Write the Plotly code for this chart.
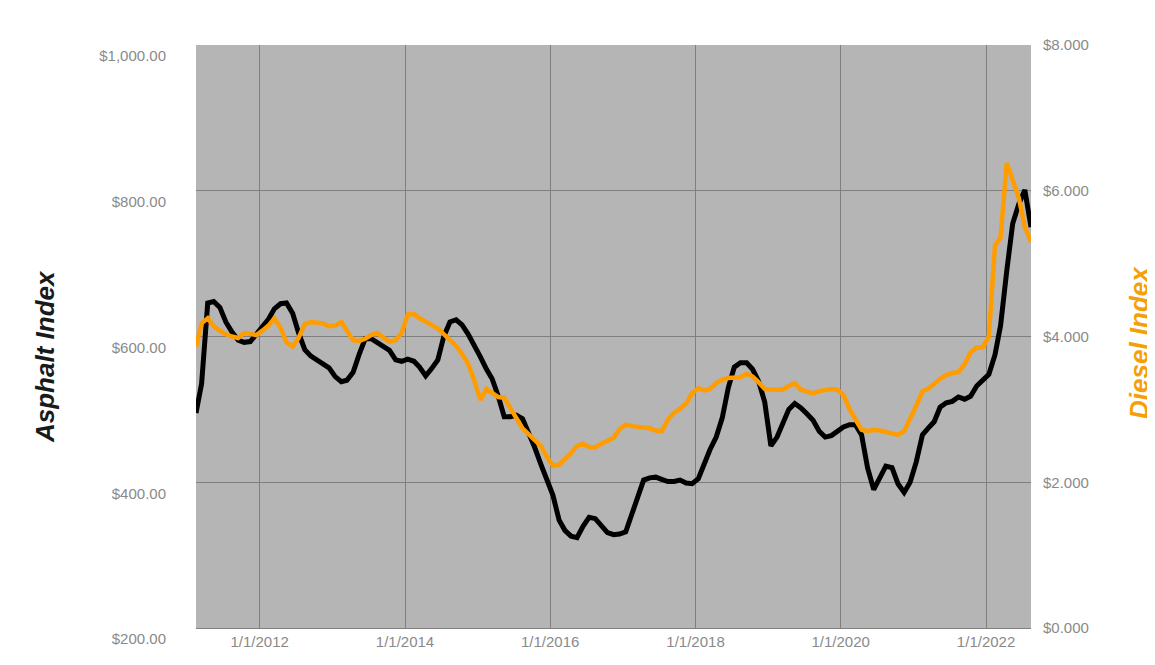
import pandas as pd
import plotly.graph_objects as go

# Monthly observations (mid-month), Feb 2011 .. Aug 2022
dates = pd.date_range("2011-02-01", periods=139, freq="MS") + pd.Timedelta(days=14)

asphalt = [495, 535, 646, 648, 640, 620, 606, 595, 592, 593, 603, 613,
           624, 638, 645, 646, 632, 605, 582, 573, 568, 564, 557, 545,
           538, 540, 551, 575, 597, 597, 591, 586, 581, 568, 566, 569,
           566, 558, 546, 556, 568, 600, 620, 623, 616, 603, 586, 572,
           555, 542, 518, 490, 490, 492, 487, 468, 448, 425, 405, 382,
           348, 334, 326, 324, 340, 352, 350, 340, 331, 328, 329, 332,
           358, 381, 403, 406, 407, 404, 401, 401, 403, 399, 398, 405,
           428, 445, 462, 488, 530, 558, 564, 564, 555, 538, 510, 450,
           462, 482, 500, 508, 502, 494, 485, 470, 462, 464, 470, 476,
           479, 479, 465, 420, 390, 405, 422, 420, 398, 386, 400, 428,
           465, 474, 483, 503, 509, 511, 517, 514, 518, 532, 540, 548,
           575, 615, 690, 755, 782, 801, 750]

diesel = [3.86, 4.18, 4.25, 4.14, 4.08, 4.03, 4.00, 3.98, 4.05, 4.04, 4.02, 4.08,
          4.15, 4.25, 4.12, 3.92, 3.86, 3.98, 4.17, 4.20, 4.19, 4.18, 4.14, 4.15,
          4.20, 4.09, 3.95, 3.94, 3.97, 4.02, 4.05, 3.98, 3.93, 3.95, 4.05, 4.30,
          4.31, 4.25, 4.21, 4.16, 4.11, 4.03, 3.95, 3.87, 3.76, 3.62, 3.40, 3.13,
          3.28, 3.22, 3.17, 3.16, 3.03, 2.88, 2.74, 2.66, 2.60, 2.50, 2.35, 2.23,
          2.24, 2.31, 2.40, 2.50, 2.53, 2.48, 2.48, 2.53, 2.57, 2.61, 2.73, 2.79,
          2.77, 2.76, 2.76, 2.74, 2.71, 2.70, 2.86, 2.95, 3.01, 3.08, 3.22, 3.29,
          3.26, 3.28, 3.36, 3.41, 3.43, 3.43, 3.44, 3.49, 3.45, 3.37, 3.28, 3.27,
          3.27, 3.27, 3.32, 3.36, 3.27, 3.24, 3.22, 3.25, 3.27, 3.28, 3.27, 3.20,
          3.00, 2.85, 2.72, 2.70, 2.72, 2.71, 2.69, 2.67, 2.65, 2.70, 2.86, 3.05,
          3.25, 3.28, 3.35, 3.42, 3.47, 3.50, 3.51, 3.62, 3.78, 3.85, 3.85, 4.00,
          5.25, 5.36, 6.38, 6.15, 5.90, 5.50, 5.30]

left_ticks = [200, 400, 600, 800, 1000]
right_ticks = [0, 2, 4, 6, 8]
x_ticks = ["2012-01-01", "2014-01-01", "2016-01-01", "2018-01-01", "2020-01-01", "2022-01-01"]
x_tick_labels = ["1/1/2012", "1/1/2014", "1/1/2016", "1/1/2018", "1/1/2020", "1/1/2022"]

ORANGE = "#FF9C00"
TICK_FONT = dict(family="Liberation Sans, Arial, sans-serif", size=15, color="#8a8a8a")

fig = go.Figure()
fig.add_trace(go.Scatter(x=dates, y=diesel, mode="lines", yaxis="y2",
                         line=dict(color=ORANGE, width=4.5), name="Diesel Index"))
fig.add_trace(go.Scatter(x=dates, y=asphalt, mode="lines", yaxis="y",
                         line=dict(color="#000000", width=5), name="Asphalt Index"))

# the page body adds an 8px margin, so the figure is sized to compensate
fig.update_layout(
    width=1147, height=657,
    margin=dict(l=188, r=124, t=37, b=37, autoexpand=False),
    paper_bgcolor="white",
    plot_bgcolor="#b5b5b5",
    showlegend=False,
    xaxis=dict(
        range=[dates[0], dates[-1]],
        tickvals=x_ticks, ticktext=x_tick_labels,
        showgrid=True, gridcolor="#7f7f7f", gridwidth=1,
        zeroline=False, showline=True, linecolor="#7f7f7f", linewidth=1,
        ticks="outside", ticklen=0, tickcolor="rgba(0,0,0,0)",
        tickfont=TICK_FONT, automargin=False,
    ),
    yaxis=dict(
        range=[200, 1000], tickvals=left_ticks, tickformat="$,.2f",
        showgrid=True, gridcolor="#7f7f7f", gridwidth=1,
        zeroline=False, showline=False,
        ticks="outside", ticklen=26, tickcolor="rgba(0,0,0,0)",
        ticklabelshift=11,
        tickfont=TICK_FONT, automargin=False,
    ),
    yaxis2=dict(
        range=[0, 8], tickvals=right_ticks, tickformat="$,.3f",
        overlaying="y", side="right",
        showgrid=False, zeroline=False, showline=False,
        ticks="outside", ticklen=8, tickcolor="rgba(0,0,0,0)",
        tickfont=TICK_FONT, automargin=False,
    ),
    annotations=[
        dict(text="<b><i>Asphalt Index</i></b>", xref="paper", yref="paper",
             x=(45 - 196) / 835, y=(628 - 357) / 583, textangle=-90,
             showarrow=False, xanchor="center", yanchor="middle",
             font=dict(family="Liberation Sans, Arial, sans-serif", size=26, color="#1a1a1a")),
        dict(text="<b><i>Diesel Index</i></b>", xref="paper", yref="paper",
             x=(1139 - 196) / 835, y=(628 - 343) / 583, textangle=-90,
             showarrow=False, xanchor="center", yanchor="middle",
             font=dict(family="Liberation Sans, Arial, sans-serif", size=26, color="#F5A00A")),
    ],
)

fig.write_html("out.html")
